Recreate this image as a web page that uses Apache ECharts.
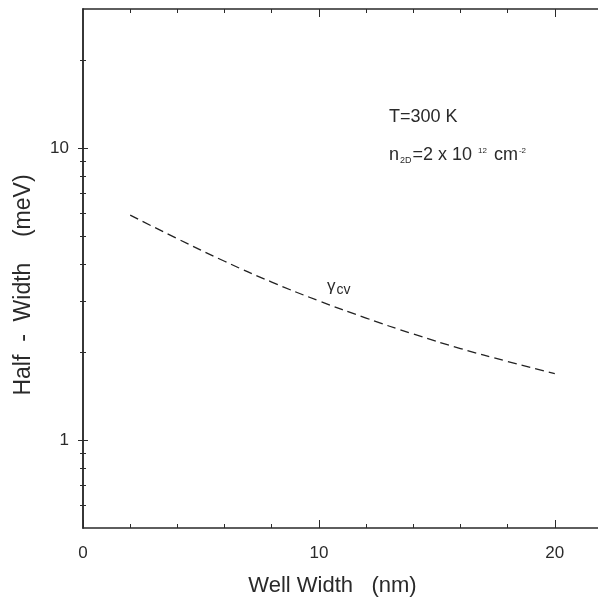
<!DOCTYPE html>
<html>
<head>
<meta charset="utf-8">
<script src="https://cdn.jsdelivr.net/npm/echarts@6/dist/echarts.min.js"></script>
<style>
  html, body { margin: 0; padding: 0; background: #fff; overflow: hidden; }
  #chart { width: 602px; height: 604px; }
</style>
</head>
<body>
<div id="chart"></div>
<script>
// well width (nm) and half-width gamma_cv (meV)
var wellWidth = [2, 4, 6, 8, 10, 12, 14, 16, 18, 20];
var gammaCv = [5.9, 4.9, 4.1, 3.48, 3.0, 2.62, 2.31, 2.06, 1.86, 1.69];

var xLabels = [0, 10, 20];
var xMinor = [2, 4, 6, 8, 12, 14, 16, 18];
var yLabels = [1, 10];
var yMinor = [0.6, 0.7, 0.8, 0.9, 2, 3, 4, 5, 6, 7, 8, 9, 20];

var ink = '#2a2a2a';
var font = 'Liberation Sans, Arial, sans-serif';

var chart = echarts.init(document.getElementById('chart'));

function xAx(pos, ticks, len, main) {
  return {
    type: 'value', position: pos, min: 0, max: 22,
    axisLine: { show: main, lineStyle: { color: ink, width: 1.5 } },
    axisTick: { show: true, inside: true, length: len, customValues: ticks, lineStyle: { color: ink, width: 1 } },
    axisLabel: { show: main && pos === 'bottom', customValues: xLabels, fontSize: 17, color: ink, fontFamily: font, margin: 17 },
    splitLine: { show: false }
  };
}
function yAx(pos, ticks, len, main) {
  return {
    type: 'log', logBase: 10, position: pos, min: 0.5, max: 30,
    axisLine: { show: main, lineStyle: { color: ink, width: 1.5 } },
    axisTick: { show: true, inside: true, length: len, customValues: ticks, lineStyle: { color: ink, width: 1 } },
    axisLabel: { show: main && pos === 'left', customValues: yLabels, fontSize: 17, color: ink, fontFamily: font, margin: 14 },
    splitLine: { show: false }
  };
}

var xb = xAx('bottom', xLabels, 8, true);
xb.name = 'Well Width   (nm)';
xb.nameLocation = 'middle';
xb.nameGap = 47;
xb.nameTextStyle = { fontSize: 22, color: ink, fontFamily: font, padding: [0, 20, 0, 0] };

var yl = yAx('left', yLabels, 5, true);
yl.name = 'Half  -  Width    (meV)';
yl.nameLocation = 'middle';
yl.nameGap = 48;
yl.nameTextStyle = { fontSize: 23, color: ink, fontFamily: font, padding: [0, 33, 0, 0] };

var option = {
  backgroundColor: '#fff',
  animation: false,
  grid: { left: 83, right: 0, top: 9, bottom: 76 },
  xAxis: [
    xb,
    xAx('bottom', xMinor, 4, false),
    xAx('top', [10, 20], 8, true),
    xAx('top', xMinor, 4, false)
  ],
  yAxis: [
    yl,
    yAx('left', yMinor, 3, false),
    yAx('right', yLabels, 5, true),
    yAx('right', yMinor, 3, false)
  ],
  series: [{
    type: 'line',
    xAxisIndex: 0,
    yAxisIndex: 0,
    data: wellWidth.map(function (w, i) { return [w, gammaCv[i]]; }),
    smooth: true,
    showSymbol: false,
    lineStyle: { color: '#222', width: 1.3, type: [9, 5] }
  }],
  graphic: [
    {
      type: 'text', left: 389, top: 108,
      style: { text: 'T=300 K', fontSize: 18, fill: ink, fontFamily: font }
    },
    {
      type: 'text', left: 389, top: 146,
      style: {
        text: 'n{sub|2D}=2 x 10 {sup|12} cm{sup|-2}',
        fontSize: 18, fill: ink, fontFamily: font,
        rich: {
          sub: { fontSize: 9, padding: [11, 1, 0, 1], fontFamily: font, fill: ink },
          sup: { fontSize: 8, padding: [0, 2, 9, 1], fontFamily: font, fill: ink }
        }
      }
    },
    {
      type: 'text', left: 327, top: 278,
      style: {
        text: 'γ{sub|cv}',
        fontSize: 17, fill: ink, fontFamily: font,
        rich: { sub: { fontSize: 14, padding: [8, 0, 0, 1], fontFamily: font, fill: ink } }
      }
    }
  ]
};
chart.setOption(option);
</script>
</body>
</html>
